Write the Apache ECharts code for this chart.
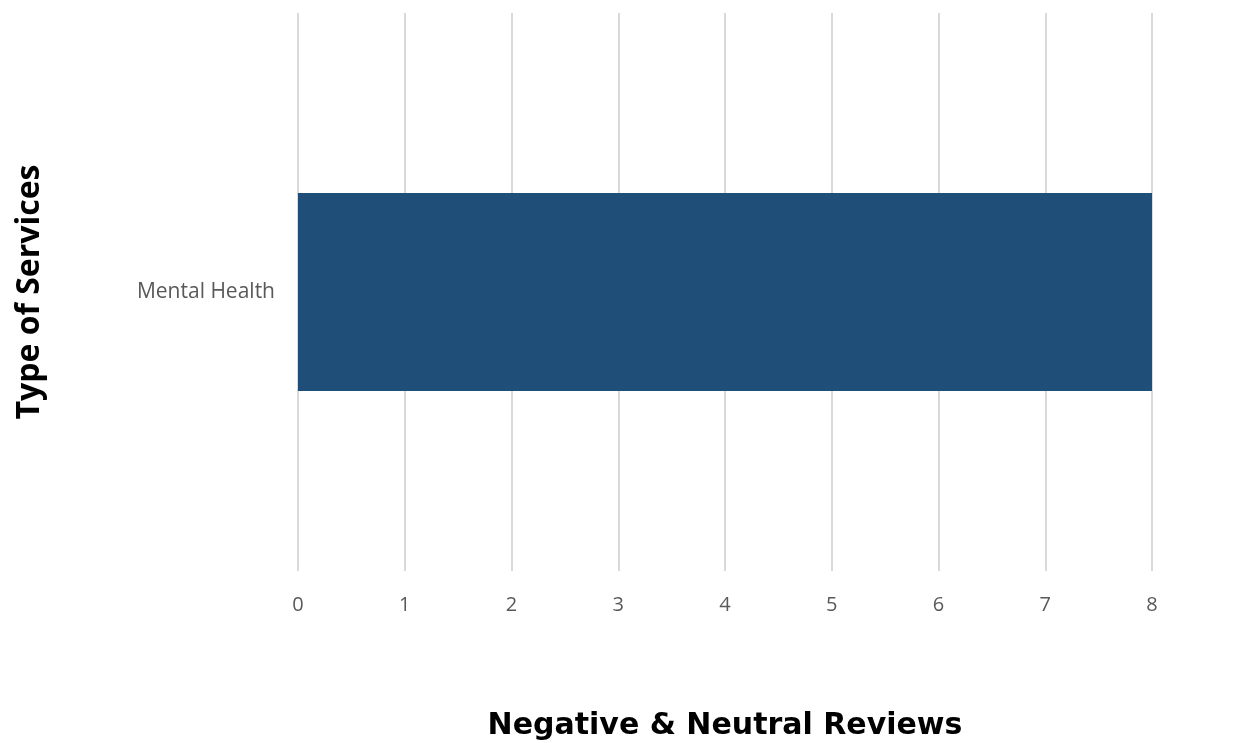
<!DOCTYPE html>
<html>
<head>
<meta charset="utf-8">
<script src="https://cdn.jsdelivr.net/npm/echarts@6/dist/echarts.min.js"></script>
<style>
  html, body { margin: 0; padding: 0; background: #ffffff; }
  #chart { width: 1249px; height: 743px; }
</style>
</head>
<body>
<div id="chart"></div>
<script>
// Service categories and their review counts
const categories = ['Mental Health'];
const reviewCounts = [8];
const xTicks = { min: 0, max: 8, interval: 1 };

const chart = echarts.init(document.getElementById('chart'), null, { renderer: 'canvas' });

chart.setOption({
  animation: false,
  grid: { left: 298, right: 97, top: 13, bottom: 172, containLabel: false, outerBoundsMode: 'none' },
  xAxis: {
    type: 'value',
    min: xTicks.min,
    max: xTicks.max,
    interval: xTicks.interval,
    name: 'Negative & Neutral Reviews',
    nameLocation: 'middle',
    nameGap: 140,
    nameTextStyle: { fontFamily: 'DejaVu Sans', fontWeight: 'bold', fontSize: 30, color: '#000000' },
    axisLine: { show: false },
    axisTick: { show: false },
    axisLabel: { color: '#595959', fontFamily: 'Open Sans', fontSize: 20, margin: 24 },
    splitLine: { show: true, lineStyle: { color: '#d9d9d9', width: 2 } }
  },
  yAxis: {
    type: 'category',
    data: categories,
    name: 'Type of Services',
    nameLocation: 'middle',
    nameGap: 252,
    nameRotate: 90,
    nameTextStyle: { fontFamily: 'Open Sans', fontWeight: 'bold', fontSize: 32, color: '#000000' },
    axisLine: { show: false },
    axisTick: { show: false },
    axisLabel: { color: '#595959', fontFamily: 'Open Sans', fontSize: 21, margin: 23 }
  },
  series: [{
    type: 'bar',
    data: reviewCounts,
    barWidth: '35.5%',
    itemStyle: { color: '#1f4e79' }
  }]
});
</script>
</body>
</html>
